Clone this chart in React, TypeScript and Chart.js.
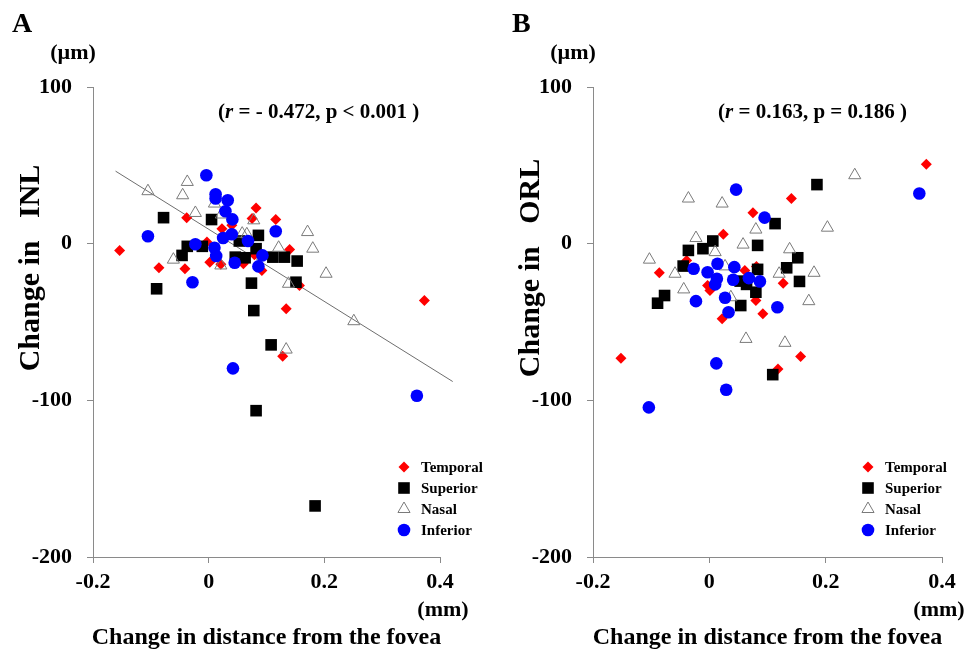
import React, { useEffect, useRef } from 'react';
import { Chart, registerables } from 'chart.js';

Chart.register(...registerables);

const FONT = '"Liberation Serif", "Times New Roman", serif';

type Pt = [number, number];

// ---------- Panel A : change in INL ----------
const INL_TEMPORAL: Pt[] = [
  [-0.154, -4.3], [-0.086, -15.4], [-0.038, 16.6], [-0.041, -16], [0.002, -11.8],
  [0.023, 9.6], [0.021, -13.2], [-0.003, 1], [0.06, -12.8], [0.082, 22.8],
  [0.075, 16], [0.116, 15.5], [0.04, 11.7], [0.14, -3.8], [0.092, -17.1],
  [0.157, -26.7], [0.134, -41.6], [0.128, -71.9], [0.373, -36.3], [0.079, -7],
];
const INL_SUPERIOR: Pt[] = [
  [-0.078, 16.6], [0.005, 15.4], [-0.09, -28.8], [-0.037, -1.7], [-0.046, -7.5],
  [-0.011, -1.7], [0.086, 5.3], [0.053, 1.7], [0.046, -8.6], [0.063, -9],
  [0.082, -3.2], [0.111, -8.6], [0.131, -8.6], [0.074, -25.2], [0.153, -11.1],
  [0.151, -24.6], [0.078, -42.7], [0.108, -64.6], [0.082, -106.6], [0.184, -167.4],
];
const INL_NASAL: Pt[] = [
  [-0.105, 33.5], [-0.037, 39.4], [-0.045, 30.9], [-0.023, 19.6], [0.01, 25.6],
  [-0.061, -10.2], [0.021, -13.9], [0.078, 14.9], [0.058, 6.4], [0.066, 6.0],
  [0.121, -2.6], [0.138, -25.6], [0.171, 7.4], [0.18, -3.2], [0.203, -19.2],
  [0.022, 18.6], [0.251, -49.5], [0.134, -67.6],
];
const INL_INFERIOR: Pt[] = [
  [-0.004, 43.7], [0.012, 31.5], [0.012, 28.8], [0.033, 27.7], [0.029, 20.7],
  [0.041, 15.5], [0.04, 6], [0.025, 3.6], [-0.105, 4.7], [-0.023, -0.4],
  [0.01, -2.6], [0.013, -7.9], [0.045, -12.2], [0.068, 1.7], [0.093, -7.5],
  [0.086, -14.5], [0.116, 7.9], [-0.028, -24.6], [0.042, -79.6], [0.36, -97.1],
];
const INL_TREND: Pt[] = [[-0.161, 46.3], [0.422, -88]];

// ---------- Panel B : change in ORL ----------
const ORL_TEMPORAL: Pt[] = [
  [0.141, 28.8], [0.075, 19.8], [0.024, 6], [-0.086, -18.6], [-0.039, -10.7],
  [-0.003, -26.7], [0.001, -29.9], [0.061, -17.1], [0.081, -14.5], [0.127, -25.2],
  [0.373, 50.7], [0.08, -36.3], [0.092, -44.8], [0.022, -48], [-0.152, -73.2],
  [0.157, -72.1], [0.118, -80],
];
const ORL_SUPERIOR: Pt[] = [
  [0.113, 12.8], [0.185, 37.7], [0.083, -1.1], [0.152, -9], [0.133, -15.4],
  [0.155, -24.1], [0.083, -16.4], [0.006, 1.7], [-0.011, -3.2], [-0.036, -4.3],
  [-0.045, -14.3], [-0.077, -33.1], [0.08, -31], [0.053, -23.9], [0.064, -26],
  [-0.089, -38], [0.054, -39.5], [0.109, -83.6],
];
const ORL_NASAL: Pt[] = [
  [-0.036, 28.8], [0.022, 25.6], [-0.103, -10.2], [-0.059, -19.2], [-0.023, 3.6],
  [0.01, -5.4], [0.058, -0.6], [0.08, 9], [-0.044, -29.2], [0.027, -14.5],
  [0.12, -19.2], [0.25, 43.7], [0.203, 10.2], [0.138, -3.6], [0.18, -18.6],
  [0.037, -34.2], [0.171, -36.7], [0.063, -60.8], [0.13, -63.3],
];
const ORL_INFERIOR: Pt[] = [
  [0.046, 34.5], [0.095, 16.6], [0.361, 32], [0.068, -22], [0.087, -24.1],
  [-0.027, -16], [-0.003, -18.2], [0.014, -12.8], [0.043, -15], [0.013, -22.4],
  [0.01, -26], [0.041, -23], [-0.023, -36.7], [0.027, -34.5], [0.033, -43.8],
  [0.117, -40.6], [0.012, -76.4], [0.029, -93.2], [-0.104, -104.5],
];

const X_TICKS = [-0.2, 0, 0.2, 0.4];
const Y_TICKS = [-200, -100, 0, 100];
const LEGEND_LABELS = ['Temporal', 'Superior', 'Nasal', 'Inferior'];

const STYLES = [
  { pointStyle: 'rectRot', radius: 5.5, bg: '#ff0000', border: '#ff0000', bw: 0 },
  { pointStyle: 'rect', radius: 8.2, bg: '#000000', border: '#000000', bw: 0 },
  { pointStyle: 'triangle', radius: 7, bg: 'rgba(255,255,255,0)', border: '#7a7a7a', bw: 1 },
  { pointStyle: 'circle', radius: 6.3, bg: '#0000ff', border: '#0000ff', bw: 0 },
];
const DRAW_ORDER = [3, 2, 1, 0]; // lower drawn on top

interface Spec {
  left: number;
  width: number;
  chartLeft: number;
  chartRight: number;
  letter: string;
  letterX: number;
  yTitle: string;
  yTitleX: number;
  stat: string[];
  statX: number;
  legendX: number;
  mmX: number;
  muX: number;
  series: Pt[][];
  trend?: Pt[];
}

const SPECS: Spec[] = [
  {
    left: 0, width: 486, chartLeft: 93, chartRight: 440,
    letter: 'A', letterX: 12, yTitle: 'Change in   INL', yTitleX: 31,
    stat: ['(', 'r', ' = - 0.472, p < 0.001 )'], statX: 218,
    legendX: 404, mmX: 443, muX: 73,
    series: [INL_TEMPORAL, INL_SUPERIOR, INL_NASAL, INL_INFERIOR],
    trend: INL_TREND,
  },
  {
    left: 486, width: 487, chartLeft: 107, chartRight: 456,
    letter: 'B', letterX: 26, yTitle: 'Change in   ORL', yTitleX: 45,
    stat: ['(', 'r', ' = 0.163, p = 0.186 )'], statX: 232,
    legendX: 382, mmX: 453, muX: 87,
    series: [ORL_TEMPORAL, ORL_SUPERIOR, ORL_NASAL, ORL_INFERIOR],
  },
];

const CHART_TOP = 87;
const CHART_BOTTOM = 557;
const H = 652;

function drawMarker(ctx: CanvasRenderingContext2D, i: number, x: number, y: number) {
  const s = STYLES[i];
  ctx.save();
  ctx.beginPath();
  if (s.pointStyle === 'rectRot') {
    ctx.moveTo(x - s.radius, y);
    ctx.lineTo(x, y - s.radius);
    ctx.lineTo(x + s.radius, y);
    ctx.lineTo(x, y + s.radius);
    ctx.closePath();
    ctx.fillStyle = s.bg;
    ctx.fill();
  } else if (s.pointStyle === 'rect') {
    const h = s.radius * Math.SQRT1_2;
    ctx.rect(x - h, y - h, 2 * h, 2 * h);
    ctx.fillStyle = s.bg;
    ctx.fill();
  } else if (s.pointStyle === 'triangle') {
    const r = s.radius;
    ctx.moveTo(x, y - r);
    ctx.lineTo(x + r * Math.sin((2 * Math.PI) / 3), y - r * Math.cos((2 * Math.PI) / 3));
    ctx.lineTo(x + r * Math.sin((4 * Math.PI) / 3), y - r * Math.cos((4 * Math.PI) / 3));
    ctx.closePath();
    ctx.strokeStyle = s.border;
    ctx.lineWidth = s.bw;
    ctx.stroke();
  } else {
    ctx.arc(x, y, s.radius, 0, Math.PI * 2);
    ctx.fillStyle = s.bg;
    ctx.fill();
  }
  ctx.restore();
}

function textPlugin(spec: Spec) {
  return {
    id: 'panelText',
    afterDraw(chart: any) {
      const ctx: CanvasRenderingContext2D = chart.ctx;
      ctx.save();
      ctx.fillStyle = '#000';
      ctx.textBaseline = 'middle';

      ctx.textAlign = 'left';
      ctx.font = `bold 28px ${FONT}`;
      ctx.fillText(spec.letter, spec.letterX, 25);

      ctx.textAlign = 'center';
      ctx.font = `bold 22px ${FONT}`;
      ctx.fillText('(\u00b5m)', spec.muX, 53);
      ctx.fillText('(mm)', spec.mmX, 610);

      // statistics
      ctx.textAlign = 'left';
      let x = spec.statX;
      spec.stat.forEach((part, i) => {
        ctx.font = i === 1 ? `italic bold 21px ${FONT}` : `bold 21px ${FONT}`;
        ctx.fillText(part, x, 113);
        x += ctx.measureText(part).width;
      });

      // x title
      ctx.textAlign = 'center';
      ctx.font = `bold 24px ${FONT}`;
      ctx.fillText('Change in distance from the fovea', (spec.chartLeft + spec.chartRight) / 2, 638);

      // y title
      ctx.save();
      ctx.translate(spec.yTitleX, 268);
      ctx.rotate(-Math.PI / 2);
      ctx.font = `bold 30px ${FONT}`;
      ctx.fillText(spec.yTitle, 0, 0);
      ctx.restore();

      // legend
      const rows = [467, 488, 509, 530];
      ctx.font = `bold 15px ${FONT}`;
      ctx.textAlign = 'left';
      LEGEND_LABELS.forEach((lab, i) => {
        drawMarker(ctx, i, spec.legendX, rows[i]);
        ctx.fillStyle = '#000';
        ctx.fillText(lab, spec.legendX + 17, rows[i] + 1);
      });
      ctx.restore();
    },
  };
}

function Panel({ spec }: { spec: Spec }) {
  const ref = useRef<HTMLCanvasElement>(null);
  useEffect(() => {
    const datasets: any[] = spec.series.map((pts, i) => ({
      label: LEGEND_LABELS[i],
      data: pts.map(([x, y]) => ({ x, y })),
      pointStyle: STYLES[i].pointStyle,
      pointRadius: STYLES[i].radius,
      pointHoverRadius: STYLES[i].radius,
      backgroundColor: STYLES[i].bg,
      borderColor: STYLES[i].border,
      borderWidth: STYLES[i].bw,
      order: DRAW_ORDER[i],
    }));
    if (spec.trend) {
      datasets.push({
        label: 'trend',
        data: spec.trend.map(([x, y]) => ({ x, y })),
        showLine: true,
        pointRadius: 0,
        borderColor: '#6e6e6e',
        borderWidth: 1,
        backgroundColor: '#6e6e6e',
        order: 10,
        clip: false,
      });
    }
    const axisGrid = {
      display: true,
      drawOnChartArea: false,
      drawTicks: true,
      tickLength: 6,
      color: '#8a8a8a',
      lineWidth: 1,
    };
    const chart = new Chart(ref.current as HTMLCanvasElement, {
      type: 'scatter',
      data: { datasets },
      options: {
        animation: false,
        responsive: false,
        devicePixelRatio: 1,
        layout: {
          padding: { left: 0, top: CHART_TOP, right: spec.width - spec.chartRight, bottom: 0 },
        },
        plugins: { legend: { display: false }, tooltip: { enabled: false } },
        scales: {
          x: {
            type: 'linear',
            min: -0.2,
            max: 0.4,
            afterBuildTicks: (s: any) => { s.ticks = X_TICKS.map((v) => ({ value: v })); },
            afterFit: (s: any) => { s.height = H - CHART_BOTTOM; },
            ticks: {
              color: '#000',
              font: { family: FONT, size: 22, weight: 'bold' },
              padding: 6,
              callback: (v: any) => (Math.abs(Number(v)) < 1e-9 ? '0' : Number(v).toFixed(1)),
            },
            grid: axisGrid,
            border: { display: true, color: '#8a8a8a', width: 1 },
          },
          y: {
            type: 'linear',
            min: -200,
            max: 100,
            afterBuildTicks: (s: any) => { s.ticks = Y_TICKS.map((v) => ({ value: v })); },
            afterFit: (s: any) => { s.width = spec.chartLeft; },
            ticks: {
              color: '#000',
              font: { family: FONT, size: 22, weight: 'bold' },
              padding: 15,
              callback: (v: any) => String(v),
            },
            grid: axisGrid,
            border: { display: true, color: '#8a8a8a', width: 1 },
          },
        },
      } as any,
      plugins: [textPlugin(spec)],
    });
    return () => chart.destroy();
  }, []);
  return (
    <canvas
      ref={ref}
      width={spec.width}
      height={H}
      style={{ position: 'absolute', left: spec.left, top: 0, width: spec.width, height: H }}
    />
  );
}

export default function App() {
  return (
    <div style={{ position: 'absolute', left: 0, top: 0, width: 973, height: H, background: '#fff' }}>
      {SPECS.map((s) => (
        <Panel key={s.letter} spec={s} />
      ))}
    </div>
  );
}
